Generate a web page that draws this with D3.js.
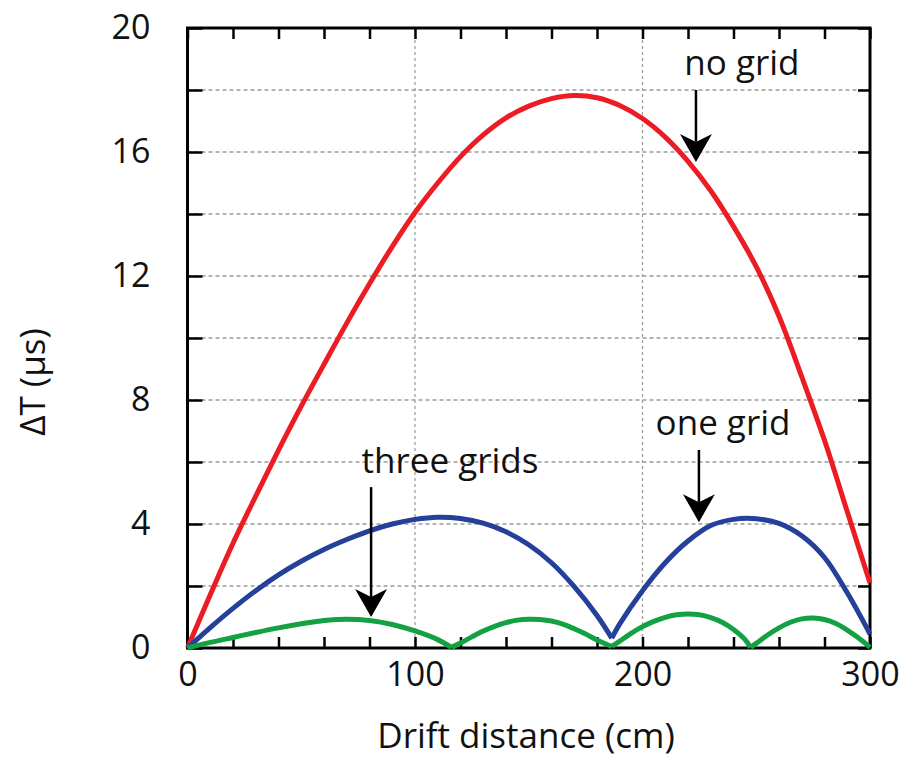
<!DOCTYPE html>
<html>
<head>
<meta charset="utf-8">
<script src="https://cdn.jsdelivr.net/npm/d3@7"></script>
<style>
  body { margin: 0; background: #fff; }
  svg text { font-family: "Open Sans", sans-serif; fill: #111; }
</style>
</head>
<body>
<svg id="chart" width="919" height="757"></svg>
<script>
// Drift time difference vs drift distance, for three grid configurations.

// no grid (red)
var noGridDist = [0, 10, 20, 30, 40, 50, 60, 70, 80, 90, 100, 110, 120, 130, 140, 150,
  160, 170, 180, 190, 200, 210, 220, 230, 240, 250, 260, 270, 280, 290, 300];
var noGridDT = [0, 1.72, 3.38, 4.9, 6.38, 7.8, 9.15, 10.48, 11.75, 12.95, 14.05, 15.0, 15.85, 16.55, 17.1, 17.48,
  17.72, 17.82, 17.75, 17.5, 17.08, 16.48, 15.7, 14.75, 13.6, 12.3, 10.7, 8.75, 6.7, 4.4, 2.1];

// one grid (blue)
var oneGridDist = [0, 10, 20, 30, 40, 50, 60, 70, 80, 90, 100, 110, 120, 130, 140, 150, 160, 170, 180, 186.5,
  190, 200, 210, 220, 230, 240, 250, 260, 270, 280, 290, 300];
var oneGridDT = [0, 0.66, 1.28, 1.85, 2.36, 2.8, 3.18, 3.5, 3.78, 4.0, 4.15, 4.22, 4.18, 4.03, 3.75, 3.33, 2.75, 1.98, 1.05, 0.32,
  0.78, 1.85, 2.75, 3.45, 3.95, 4.15, 4.17, 4.02, 3.62, 2.92, 1.78, 0.45];
var oneGridCusps = [186.5];

// three grids (green)
var threeGridsDist = [0, 10, 20, 30, 40, 50, 60, 70, 80, 90, 100, 110, 116,
  120, 125, 130, 135, 140, 145, 150, 155, 160, 165, 170, 175, 180, 186.5,
  190, 195, 200, 205, 210, 215, 220, 225, 230, 235, 240, 245, 247.5,
  250, 255, 260, 265, 270, 275, 280, 285, 290, 295, 300];
var threeGridsDT = [0, 0.18, 0.34, 0.5, 0.65, 0.78, 0.89, 0.93, 0.89, 0.76, 0.55, 0.27, 0.02,
  0.16, 0.36, 0.55, 0.7, 0.82, 0.9, 0.93, 0.92, 0.87, 0.77, 0.62, 0.45, 0.26, 0.05,
  0.22, 0.47, 0.69, 0.86, 0.99, 1.07, 1.1, 1.07, 0.98, 0.83, 0.6, 0.28, 0.02,
  0.15, 0.42, 0.65, 0.83, 0.94, 0.97, 0.92, 0.79, 0.58, 0.32, 0.02];
var threeGridsCusps = [116, 186.5, 247.5];

// axis ticks
var xTicks = d3.range(0, 301, 20);
var xLabels = [0, 100, 200, 300];
var yTicks = d3.range(0, 21, 2);
var yLabels = [0, 4, 8, 12, 16, 20];
var xGrid = [100, 200];
var yGrid = d3.range(2, 20, 2);

// arrow annotations (data units)
var notes = [
  { text: 'no grid', tx: 243.7, ty: 18.48, ax: 223.5, y0: 18.0, y1: 15.68 },
  { text: 'one grid', tx: 235.4, ty: 6.87, ax: 224.8, y0: 6.39, y1: 4.06 },
  { text: 'three grids', tx: 115.4, ty: 5.65, ax: 80.7, y0: 5.19, y1: 1.0 }
];

var svg = d3.select('#chart');
var plotL = 187.5, plotR = 870, plotT = 28, plotB = 648;

var x = d3.scaleLinear().domain([0, 300]).range([plotL, plotR]);
var y = d3.scaleLinear().domain([0, 20]).range([plotB, plotT]);

// grid lines
svg.append('g')
  .selectAll('line')
  .data(yGrid)
  .enter().append('line')
    .attr('x1', plotL).attr('x2', plotR)
    .attr('y1', function(d) { return y(d); })
    .attr('y2', function(d) { return y(d); })
    .attr('stroke', '#9a9a9a')
    .attr('stroke-width', 1.3)
    .attr('stroke-dasharray', '4,3');

svg.append('g')
  .selectAll('line')
  .data(xGrid)
  .enter().append('line')
    .attr('y1', plotT).attr('y2', plotB)
    .attr('x1', function(d) { return x(d); })
    .attr('x2', function(d) { return x(d); })
    .attr('stroke', '#a0a0a0')
    .attr('stroke-width', 1.3)
    .attr('stroke-dasharray', '3,3');

// axes with inward ticks
function styleAxis(g) {
  g.select('.domain').remove();
  g.selectAll('.tick line').attr('stroke', '#000').attr('stroke-width', 2.5);
  g.selectAll('.tick text')
    .style('font-size', '34px')
    .style('font-family', '"Open Sans", sans-serif')
    .attr('fill', '#111');
}

svg.append('g')
  .attr('transform', 'translate(0,' + plotB + ')')
  .call(d3.axisBottom(x).tickValues(xTicks).tickSize(-11).tickPadding(14)
    .tickFormat(function(d) { return xLabels.indexOf(d) >= 0 ? d : ''; }))
  .call(styleAxis);

svg.append('g')
  .attr('transform', 'translate(0,' + plotT + ')')
  .call(d3.axisTop(x).tickValues(xTicks).tickSize(-11).tickFormat(''))
  .call(styleAxis);

svg.append('g')
  .attr('transform', 'translate(' + plotL + ',0)')
  .call(d3.axisLeft(y).tickValues(yTicks).tickSize(-15).tickPadding(37)
    .tickFormat(function(d) { return yLabels.indexOf(d) >= 0 ? d : ''; }))
  .call(styleAxis);

svg.append('g')
  .attr('transform', 'translate(' + plotR + ',0)')
  .call(d3.axisRight(y).tickValues(yTicks).tickSize(-12).tickFormat(''))
  .call(styleAxis);

// frame
svg.append('rect')
  .attr('x', plotL).attr('y', plotT)
  .attr('width', plotR - plotL).attr('height', plotB - plotT)
  .attr('fill', 'none')
  .attr('stroke', '#000')
  .attr('stroke-width', 3);

// curves, split into arches at the cusps
var line = d3.line()
  .x(function(d) { return x(d[0]); })
  .y(function(d) { return y(d[1]); })
  .curve(d3.curveCatmullRom.alpha(0.5));

function arches(dist, dt, cusps) {
  var pts = dist.map(function(d, i) { return [d, dt[i]]; });
  var edges = [-Infinity].concat(cusps, [Infinity]);
  var out = [];
  for (var i = 0; i < edges.length - 1; i++) {
    out.push(pts.filter(function(p) { return p[0] >= edges[i] && p[0] <= edges[i + 1]; }));
  }
  return out;
}

var series = [
  { color: '#ec1c24', arches: arches(noGridDist, noGridDT, []) },
  { color: '#24409a', arches: arches(oneGridDist, oneGridDT, oneGridCusps) },
  { color: '#13a142', arches: arches(threeGridsDist, threeGridsDT, threeGridsCusps) }
];

series.forEach(function(s) {
  svg.append('g')
    .selectAll('path')
    .data(s.arches)
    .enter().append('path')
      .attr('d', line)
      .attr('fill', 'none')
      .attr('stroke', s.color)
      .attr('stroke-width', 5)
      .attr('stroke-linejoin', 'round');
});

// annotations
var ann = svg.append('g').selectAll('g')
  .data(notes)
  .enter().append('g');

ann.append('text')
  .attr('x', function(d) { return x(d.tx); })
  .attr('y', function(d) { return y(d.ty); })
  .attr('text-anchor', 'middle')
  .style('font-size', '35px')
  .text(function(d) { return d.text; });

ann.append('line')
  .attr('x1', function(d) { return x(d.ax); })
  .attr('x2', function(d) { return x(d.ax); })
  .attr('y1', function(d) { return y(d.y0); })
  .attr('y2', function(d) { return y(d.y1) - 20; })
  .attr('stroke', '#000')
  .attr('stroke-width', 2.5);

ann.append('path')
  .attr('transform', function(d) { return 'translate(' + x(d.ax) + ',' + y(d.y1) + ')'; })
  .attr('d', 'M0,0L-16,-28L0,-20L16,-28Z')
  .attr('fill', '#000');

// axis titles
svg.append('text')
  .attr('x', 526)
  .attr('y', 748)
  .attr('text-anchor', 'middle')
  .style('font-size', '35px')
  .text('Drift distance (cm)');

svg.append('text')
  .attr('transform', 'translate(45,' + 382 + ') rotate(-90)')
  .attr('text-anchor', 'middle')
  .style('font-size', '35px')
  .text('ΔT (μs)');
</script>
</body>
</html>
